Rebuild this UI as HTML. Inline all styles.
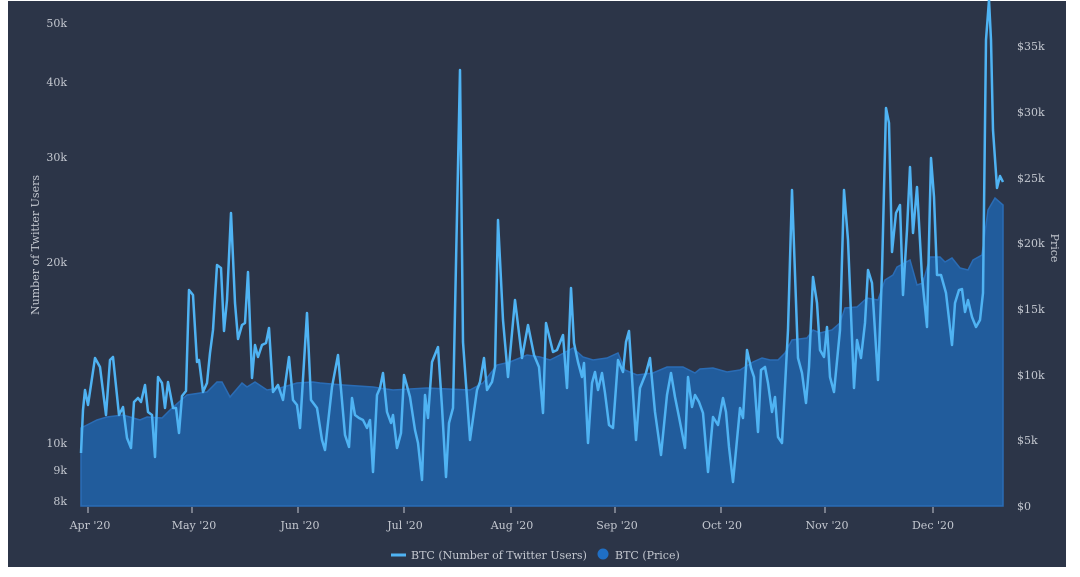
<!DOCTYPE html>
<html><head><meta charset="utf-8"><style>
html,body{margin:0;padding:0;background:#fff;}
svg{display:block;}
text{font-family:"DejaVu Serif","Liberation Serif",serif;fill:#c4c8d0;font-size:11px;}
</style></head><body>
<svg width="1080" height="577" viewBox="0 0 1080 577">
<rect x="8" y="1" width="1058" height="566" fill="#2c3548"/>
<!-- price area -->
<polygon fill="#215c9c" stroke="#2a6cb5" stroke-width="1.5" points="81,506 81,428 87,425 97,420 107,417 123,415 140,420 147,417 162,418 170,410 187,395 207,392 217,382 222,382 230,397 242,383 247,387 255,382 267,390 280,388 297,383 313,382 320,383 343,385 373,387 393,390 427,388 470,390 483,383 497,365 510,362 527,355 540,357 550,360 560,355 573,348 583,357 593,360 607,358 618,353 625,370 637,375 653,373 667,367 683,367 695,373 700,369 713,368 727,372 740,370 753,362 762,358 770,360 778,360 785,353 792,340 807,338 813,330 820,333 832,330 840,323 845,308 857,307 867,298 878,300 885,280 893,275 897,267 910,260 917,285 923,283 930,257 940,257 945,262 952,258 960,268 968,270 973,260 982,255 988,210 995,198 1003,205 1003,506"/>
<!-- twitter line -->
<polyline fill="none" stroke="#4fb3f3" stroke-width="2.5" stroke-linejoin="round" points="81,453 83,410 85,390 88,405 95,358 100,367 106,415 110,360 113,357 119,415 123,407 127,438 131,448 134,402 138,398 141,402 145,385 148,412 152,415 155,457 158,377 162,383 165,408 168,382 173,408 176,408 179,433 182,396 186,391 189,290 193,295 197,362 199,360 203,392 207,383 210,353 213,330 217,265 221,268 224,331 227,300 231,213 235,303 238,339 242,325 245,323 248,272 252,378 255,345 258,357 262,345 266,343 269,328 273,392 278,385 283,400 289,357 293,400 297,405 300,428 307,313 311,400 317,408 322,440 325,450 332,387 338,355 345,435 349,447 352,398 355,415 359,418 363,420 367,428 370,420 373,472 377,395 380,388 383,373 387,412 391,423 393,415 397,448 401,433 404,375 410,397 415,430 418,443 422,480 425,395 428,418 432,362 438,347 442,407 446,477 449,423 453,408 460,70 463,342 470,440 477,390 480,382 484,358 487,390 492,382 495,367 498,220 503,320 508,377 515,300 522,358 528,325 534,355 539,367 543,413 546,323 553,352 557,350 563,335 567,388 571,288 574,343 578,362 582,377 584,363 588,443 592,383 595,372 598,390 602,373 605,393 609,425 613,428 618,360 623,372 626,342 629,331 636,440 640,388 646,373 650,358 655,412 661,455 667,395 671,373 675,397 679,417 685,448 688,377 692,407 695,395 699,402 703,413 708,472 713,417 718,425 723,398 726,412 729,447 733,482 740,408 743,418 747,350 751,368 754,377 758,432 761,370 765,367 768,383 772,412 775,397 778,437 782,443 788,330 792,190 798,358 802,373 806,403 809,367 813,277 817,303 820,350 824,357 827,327 830,377 834,392 840,330 844,190 848,240 854,388 857,340 861,358 865,323 868,270 872,283 878,380 882,272 886,108 889,123 892,252 896,213 900,205 903,295 907,230 910,167 913,233 917,187 922,277 927,327 931,158 934,197 937,275 941,275 946,293 952,345 955,303 959,290 962,289 965,312 968,300 972,317 976,327 980,320 983,293 986,40 989,0 991,40 993,130 997,188 1000,176 1003,182"/>
<!-- left axis labels -->
<g text-anchor="end">
<text x="67" y="27">50k</text><text x="67" y="86">40k</text><text x="67" y="161">30k</text>
<text x="67" y="266">20k</text><text x="67" y="447">10k</text><text x="67" y="474">9k</text><text x="67" y="505">8k</text>
</g>
<text transform="translate(39,245) rotate(-90)" text-anchor="middle">Number of Twitter Users</text>
<!-- right axis -->
<g text-anchor="start">
<text x="1017" y="50">$35k</text><text x="1017" y="116">$30k</text><text x="1017" y="182">$25k</text>
<text x="1017" y="247">$20k</text><text x="1017" y="313">$15k</text><text x="1017" y="379">$10k</text>
<text x="1017" y="444">$5k</text><text x="1017" y="510">$0</text>
</g>
<text transform="translate(1051,248) rotate(90)" text-anchor="middle">Price</text>
<!-- x ticks -->
<g stroke="#c4c8d0" stroke-width="1">
<line x1="88" y1="507" x2="88" y2="513"/><line x1="192" y1="507" x2="192" y2="513"/><line x1="298" y1="507" x2="298" y2="513"/><line x1="404" y1="507" x2="404" y2="513"/><line x1="511" y1="507" x2="511" y2="513"/><line x1="615" y1="507" x2="615" y2="513"/><line x1="721" y1="507" x2="721" y2="513"/><line x1="825" y1="507" x2="825" y2="513"/><line x1="933" y1="507" x2="933" y2="513"/>
</g>
<g text-anchor="middle">
<text x="90" y="529">Apr '20</text><text x="194" y="529">May '20</text><text x="300" y="529">Jun '20</text><text x="405" y="529">Jul '20</text><text x="512" y="529">Aug '20</text><text x="617" y="529">Sep '20</text><text x="722" y="529">Oct '20</text><text x="827" y="529">Nov '20</text><text x="933" y="529">Dec '20</text>
</g>
<!-- legend -->
<line x1="391" y1="555" x2="406" y2="555" stroke="#4fb3f3" stroke-width="3"/>
<text x="411" y="559">BTC (Number of Twitter Users)</text>
<circle cx="603" cy="554" r="5.5" fill="#1f6fc5"/>
<text x="615" y="559">BTC (Price)</text>
</svg>
</body></html>
